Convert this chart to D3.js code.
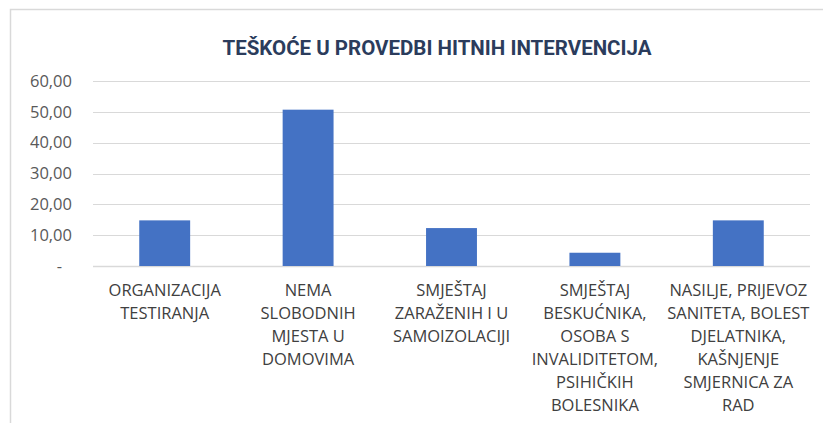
<!DOCTYPE html>
<html>
<head>
<meta charset="utf-8">
<script src="https://cdn.jsdelivr.net/npm/d3@7"></script>
<style>
  body { margin: 0; background: #fff; }
  svg { display: block; }
</style>
</head>
<body>
<svg id="chart"></svg>
<script>
// chart data
var title = "TEŠKOĆE U PROVEDBI HITNIH INTERVENCIJA";
var categories = [
  ["ORGANIZACIJA", "TESTIRANJA"],
  ["NEMA", "SLOBODNIH", "MJESTA U", "DOMOVIMA"],
  ["SMJEŠTAJ", "ZARAŽENIH I U", "SAMOIZOLACIJI"],
  ["SMJEŠTAJ", "BESKUĆNIKA,", "OSOBA S", "INVALIDITETOM,", "PSIHIČKIH", "BOLESNIKA"],
  ["NASILJE, PRIJEVOZ", "SANITETA, BOLEST", "DJELATNIKA,", "KAŠNJENJE", "SMJERNICA ZA", "RAD"]
];
var values = [14.8, 50.7, 12.3, 4.3, 14.8];
var yTicks = [0, 10, 20, 30, 40, 50, 60];

var W = 823, H = 423;
var margin = {top: 81, right: 13, bottom: 157, left: 93},
  width = W - margin.left - margin.right,
  height = H - margin.top - margin.bottom;

var svg = d3.select("#chart")
  .attr("width", W)
  .attr("height", H);

// chart frame
svg.append("rect")
  .attr("x", 10.5).attr("y", 9.5)
  .attr("width", W + 20).attr("height", H + 20)
  .style("fill", "none")
  .style("stroke", "#d9d9d9")
  .style("stroke-width", 1.5);

var g = svg.append("g")
  .attr("transform", "translate(" + margin.left + "," + margin.top + ")");

var x = d3.scaleBand()
  .domain(d3.range(categories.length))
  .range([0, width])
  .paddingInner(0.645)
  .paddingOuter(0.3225);

var y = d3.scaleLinear()
  .domain([0, 60])
  .range([height, 0]);

// gridlines
g.selectAll(".grid")
  .data(yTicks)
  .enter().append("line")
  .attr("x1", 0).attr("x2", width)
  .attr("y1", d => Math.round(y(d)) + 0.5)
  .attr("y2", d => Math.round(y(d)) + 0.5)
  .style("stroke", "#d9d9d9")
  .style("stroke-width", d => d === 0 ? 1.5 : 1);

// y axis labels
var yAxis = d3.axisLeft(y)
  .tickValues(yTicks)
  .tickSize(0)
  .tickPadding(21)
  .tickFormat(d => d === 0 ? "-" : d3.format(".2f")(d).replace(".", ","));

g.append("g")
  .call(yAxis)
  .call(a => a.select(".domain").remove())
  .selectAll("text")
  .attr("dx", d => d === 0 ? -10 : 0)
  .style("font-family", "'Open Sans', sans-serif")
  .style("font-size", "16.5px")
  .style("fill", "#595959");

// bars
g.selectAll(".bar")
  .data(values)
  .enter().append("rect")
  .attr("x", (d, i) => x(i))
  .attr("y", d => y(d))
  .attr("width", x.bandwidth())
  .attr("height", d => height - y(d))
  .style("fill", "#4472c4");

// category labels
var labels = g.selectAll(".cat")
  .data(categories)
  .enter().append("text")
  .attr("text-anchor", "middle")
  .attr("transform", (d, i) => "translate(" + (x(i) + x.bandwidth() / 2) + "," + (height + 30) + ")")
  .style("font-family", "'Open Sans', sans-serif")
  .style("font-size", "16.5px")
  .style("fill", "#404040");

labels.selectAll("tspan")
  .data(d => d)
  .enter().append("tspan")
  .attr("x", 0)
  .attr("y", (d, i) => i * 23)
  .text(d => d);

// title
svg.append("text")
  .attr("x", 437)
  .attr("y", 55)
  .attr("text-anchor", "middle")
  .style("font-family", "'Liberation Sans Narrow', 'Roboto', sans-serif")
  .style("font-weight", "bold")
  .style("font-size", "20.5px")
  .style("fill", "#2b3c5c")
  .text(title);
</script>
</body>
</html>
